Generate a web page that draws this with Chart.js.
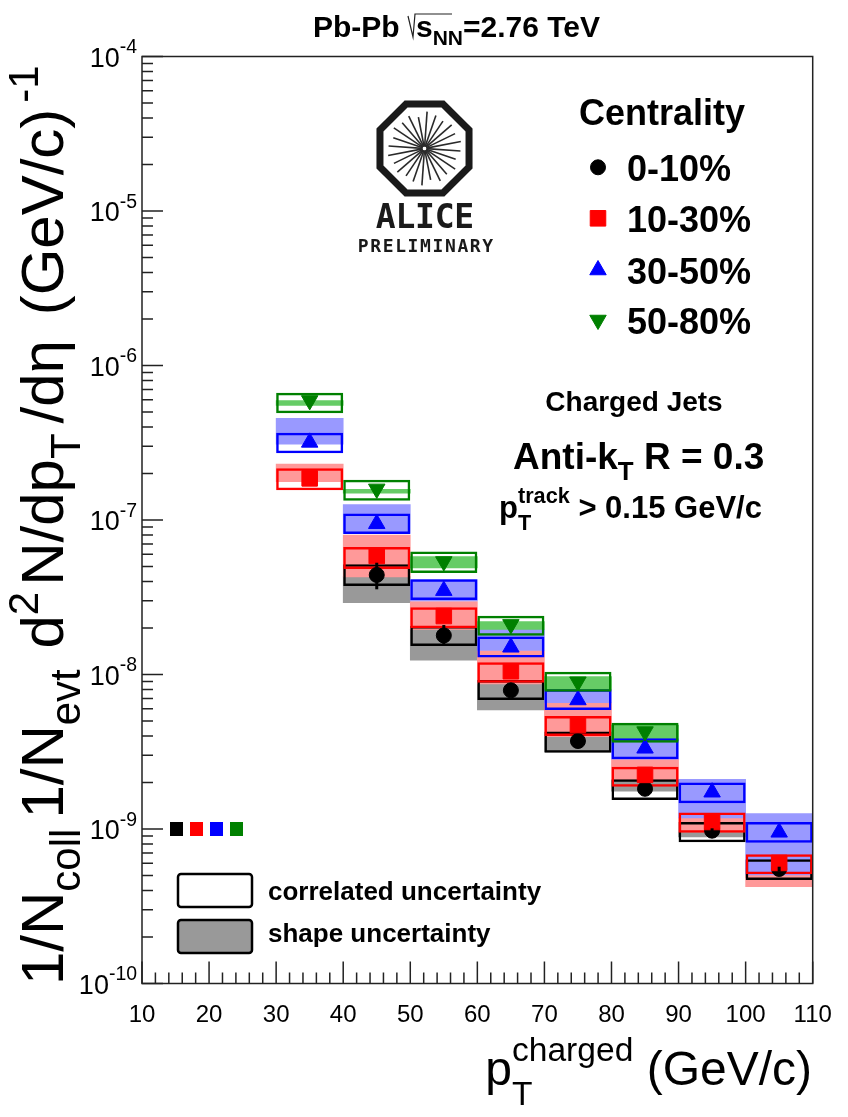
<!DOCTYPE html>
<html>
<head>
<meta charset="utf-8">
<script src="https://cdn.jsdelivr.net/npm/chart.js@4.4.1/dist/chart.umd.min.js"></script>
<style>
  html, body { margin: 0; padding: 0; background: #fff; }
  #wrap { width: 848px; height: 1117px; }
</style>
</head>
<body>
<div id="wrap"><canvas id="chart" width="848" height="1117"></canvas></div>
<script>
// pT bin centres (GeV/c), bins are 10 GeV/c wide
const binCenters = [35, 45, 55, 65, 75, 85, 95, 105];

// 0-10%
const c0Val     = [null, 4.41e-8, 1.79e-8, 7.90e-9, 3.71e-9, 1.82e-9, 9.75e-10, 5.51e-10];
const c0CorrHi  = [null, 5.17e-8, 2.06e-8, 9.21e-9, 4.27e-9, 2.10e-9, 1.11e-9, 6.37e-10];
const c0CorrLo  = [null, 3.74e-8, 1.53e-8, 6.84e-9, 3.12e-9, 1.54e-9, 8.20e-10, 4.68e-10];
const c0ShapeHi = [null, 4.30e-8, 1.96e-8, 8.68e-9, 3.96e-9, 2.07e-9, 9.56e-10, 5.59e-10];
const c0ShapeLo = [null, 2.92e-8, 1.24e-8, 5.89e-9, 3.16e-9, 1.76e-9, 8.88e-10, 4.82e-10];
const c0StatHi  = [null, 5.29e-8, 2.09e-8, 8.4e-9, 3.9e-9, 1.9e-9, 1.01e-9, 5.7e-10];
const c0StatLo  = [null, 3.56e-8, 1.55e-8, 7.4e-9, 3.5e-9, 1.74e-9, 9.4e-10, 5.3e-10];

// 10-30%
const c1Val     = [1.86e-7, 5.85e-8, 2.39e-8, 1.05e-8, 4.71e-9, 2.24e-9, 1.11e-9, 6.03e-10];
const c1CorrHi  = [2.16e-7, 6.68e-8, 2.72e-8, 1.20e-8, 5.39e-9, 2.53e-9, 1.28e-9, 6.86e-10];
const c1CorrLo  = [1.56e-7, 4.82e-8, 1.99e-8, 8.85e-9, 4.00e-9, 1.88e-9, 9.46e-10, 5.09e-10];
const c1ShapeHi = [2.30e-7, 8.0e-8, 2.96e-8, 1.43e-8, 6.57e-9, 2.83e-9, 1.18e-9, 6.30e-10];
const c1ShapeLo = [1.77e-7, 4.28e-8, 1.96e-8, 8.68e-9, 3.96e-9, 2.07e-9, 9.56e-10, 4.23e-10];

// 30-50%
const c2Val     = [3.18e-7, 9.46e-8, 3.49e-8, 1.50e-8, 6.84e-9, 3.33e-9, 1.73e-9, 9.52e-10];
const c2CorrHi  = [3.67e-7, 1.10e-7, 4.13e-8, 1.76e-8, 8.02e-9, 3.86e-9, 2.00e-9, 1.11e-9];
const c2CorrLo  = [2.70e-7, 8.12e-8, 3.03e-8, 1.29e-8, 5.89e-9, 2.83e-9, 1.47e-9, 8.15e-10];
const c2ShapeHi = [4.55e-7, 1.26e-7, 4.12e-8, 1.96e-8, 7.94e-9, 3.73e-9, 2.10e-9, 1.26e-9];
const c2ShapeLo = [3.10e-7, 8.18e-8, 2.99e-8, 1.43e-8, 6.57e-9, 2.83e-9, 1.18e-9, 5.04e-10];

// 50-80%
const c3Val     = [5.94e-7, 1.59e-7, 5.39e-8, 2.11e-8, 8.98e-9, 4.27e-9, null, null];
const c3CorrHi  = [6.67e-7, 1.82e-7, 6.25e-8, 2.40e-8, 1.04e-8, 4.88e-9, null, null];
const c3CorrLo  = [4.91e-7, 1.33e-7, 4.54e-8, 1.78e-8, 7.74e-9, 3.62e-9, null, null];
const c3ShapeHi = [5.92e-7, 1.58e-7, 5.80e-8, 2.20e-8, 9.68e-9, 4.71e-9, null, null];
const c3ShapeLo = [5.52e-7, 1.49e-7, 4.89e-8, 1.96e-8, 7.94e-9, 3.73e-9, null, null];

const centralities = ['0-10%', '10-30%', '30-50%', '50-80%'];
const xTicks = [10, 20, 30, 40, 50, 60, 70, 80, 90, 100, 110];
const yDecades = [-10, -9, -8, -7, -6, -5, -4];

const FONT = '"Liberation Sans", Arial, Helvetica, sans-serif';

const series = [
  { val: c0Val, cLo: c0CorrLo, cHi: c0CorrHi, sLo: c0ShapeLo, sHi: c0ShapeHi, line: '#000000', fill: '#999999', style: 'circle', rot: 0, r: 7.5 },
  { val: c1Val, cLo: c1CorrLo, cHi: c1CorrHi, sLo: c1ShapeLo, sHi: c1ShapeHi, line: '#ff0000', fill: '#ff9999', style: 'rect', rot: 0, r: 11 },
  { val: c2Val, cLo: c2CorrLo, cHi: c2CorrHi, sLo: c2ShapeLo, sHi: c2ShapeHi, line: '#0000ff', fill: '#9999ff', style: 'triangle', rot: 0, r: 9.5 },
  { val: c3Val, cLo: c3CorrLo, cHi: c3CorrHi, sLo: c3ShapeLo, sHi: c3ShapeHi, line: '#008000', fill: '#66cc66', style: 'triangle', rot: 180, r: 9.5 }
];

function floating(lo, hi) {
  return binCenters.map((x, i) => (lo[i] == null ? null : { x: x, y: [lo[i], hi[i]] })).filter(Boolean);
}
function points(vals) {
  return binCenters.map((x, i) => (vals[i] == null ? null : { x: x, y: vals[i] })).filter(Boolean);
}

const barCommon = { type: 'bar', grouped: false, barPercentage: 1, categoryPercentage: 1, borderSkipped: false };
const datasets = [];
series.forEach((s, k) => {
  // shape uncertainty band
  datasets.push(Object.assign({}, barCommon, {
    label: centralities[k] + ' shape', data: floating(s.sLo, s.sHi),
    backgroundColor: s.fill, borderWidth: 0, order: 30 - k
  }));
  // correlated uncertainty box
  datasets.push(Object.assign({}, barCommon, {
    label: centralities[k] + ' correlated', data: floating(s.cLo, s.cHi),
    backgroundColor: 'rgba(0,0,0,0)', borderColor: s.line, borderWidth: 2.5, inflateAmount: 0, order: 20 - k
  }));
  // points
  datasets.push({
    type: 'scatter', label: centralities[k], data: points(s.val),
    pointStyle: s.style, rotation: s.rot, pointRadius: s.r,
    backgroundColor: s.line, borderColor: s.line, borderWidth: 1, order: 10 - k
  });
});

// rich text: parts are {t} or {sub, sup}; gap adds space after a part
function richRun(ctx, x, y, size, weight, parts, draw) {
  let cx = x;
  for (const p of parts) {
    if (p.t !== undefined) {
      ctx.font = weight + ' ' + size + 'px ' + FONT;
      if (draw) ctx.fillText(p.t, cx, y);
      cx += ctx.measureText(p.t).width;
    } else {
      const s = size * (p.scale || 0.7);
      ctx.font = weight + ' ' + s + 'px ' + FONT;
      let w = 0;
      if (p.sup) {
        if (draw) ctx.fillText(p.sup, cx, y - size * (p.up || 0.42));
        w = Math.max(w, ctx.measureText(p.sup).width);
      }
      if (p.sub) {
        if (draw) ctx.fillText(p.sub, cx, y + size * (p.down || 0.28));
        w = Math.max(w, ctx.measureText(p.sub).width);
      }
      cx += w;
    }
    cx += p.gap || 0;
  }
  return cx - x;
}
function drawRich(ctx, x, y, size, weight, parts, align) {
  ctx.textAlign = 'left';
  ctx.textBaseline = 'alphabetic';
  const w = richRun(ctx, 0, 0, size, weight, parts, false);
  const sx = align === 'center' ? x - w / 2 : (align === 'right' ? x - w : x);
  richRun(ctx, sx, y, size, weight, parts, true);
  return w;
}

function drawLogo(ctx, cx, cy) {
  ctx.save();
  ctx.strokeStyle = '#1a1a1a';
  ctx.lineWidth = 7;
  ctx.lineJoin = 'miter';
  ctx.beginPath();
  const R = 48.2;
  for (let k = 0; k < 8; k++) {
    const a = Math.PI / 8 + k * Math.PI / 4;
    const px = cx + R * Math.cos(a), py = cy + R * Math.sin(a);
    if (k === 0) ctx.moveTo(px, py); else ctx.lineTo(px, py);
  }
  ctx.closePath();
  ctx.stroke();
  ctx.strokeStyle = '#2a2a2a';
  ctx.lineWidth = 1.6;
  const lens = [36, 33, 37, 34, 36, 32, 37, 35, 33, 36, 34, 37];
  for (let k = 0; k < 24; k++) {
    const a = k * Math.PI / 12 + 0.07;
    const L = lens[k % lens.length];
    ctx.beginPath();
    ctx.moveTo(cx + 2 * Math.cos(a), cy + 2 * Math.sin(a));
    ctx.lineTo(cx + L * Math.cos(a), cy + L * Math.sin(a));
    ctx.stroke();
  }
  ctx.fillStyle = '#1a1a1a';
  ctx.textAlign = 'center';
  ctx.font = 'bold 33px "DejaVu Sans Mono", monospace';
  'ALICE'.split('').forEach((c, i) => ctx.fillText(c, 376 + (i + 0.5) * 19.6, 228));
  ctx.font = 'bold 18px "DejaVu Sans Mono", monospace';
  'PRELIMINARY'.split('').forEach((c, i) => ctx.fillText(c, 357 + (i + 0.5) * 12.45, 252));
  ctx.restore();
}

const decor = {
  id: 'decor',
  afterDraw(chart) {
    const ctx = chart.ctx;
    const xs = chart.scales.x, ys = chart.scales.y;
    const a = chart.chartArea;
    ctx.save();

    // statistical errors of 0-10%
    ctx.strokeStyle = '#000';
    ctx.lineWidth = 3;
    binCenters.forEach((x, i) => {
      if (c0StatLo[i] == null) return;
      const px = xs.getPixelForValue(x);
      ctx.beginPath();
      ctx.moveTo(px, ys.getPixelForValue(c0StatLo[i]));
      ctx.lineTo(px, ys.getPixelForValue(c0StatHi[i]));
      ctx.stroke();
    });

    // frame and ticks
    ctx.strokeStyle = '#222';
    ctx.lineWidth = 1.5;
    ctx.strokeRect(a.left, a.top, a.right - a.left, a.bottom - a.top);
    ctx.beginPath();
    yDecades.forEach(e => {
      for (let m = 1; m <= 9; m++) {
        if (e === -4 && m > 1) break;
        const py = ys.getPixelForValue(m * Math.pow(10, e));
        ctx.moveTo(a.left, py);
        ctx.lineTo(a.left + (m === 1 ? 21 : 11), py);
      }
    });
    for (let t = 10; t <= 110; t += 2) {
      const px = xs.getPixelForValue(t);
      ctx.moveTo(px, a.bottom);
      ctx.lineTo(px, a.bottom - (t % 10 === 0 ? 22 : 11));
    }
    ctx.stroke();

    // tick labels
    ctx.fillStyle = '#000';
    ctx.textAlign = 'center';
    ctx.font = '24px ' + FONT;
    xTicks.forEach(t => ctx.fillText(String(t), xs.getPixelForValue(t), a.bottom + 38));
    yDecades.forEach(e => {
      const py = ys.getPixelForValue(Math.pow(10, e));
      drawRich(ctx, a.left - 5, py + 10, 27, 'normal', [{ t: '10' }, { sup: String(e), scale: 0.72, up: 0.5 }], 'right');
    });

    // axis titles
    drawRich(ctx, 812, 1085, 48, 'normal', [{ t: 'p' }, { sup: 'charged', sub: 'T', up: 0.5, down: 0.42 }, { t: ' (GeV/c)' }], 'right');
    ctx.save();
    ctx.translate(63, 985);
    ctx.rotate(-Math.PI / 2);
    drawRich(ctx, 0, 0, 60, 'normal', [
      { t: '1/N' }, { sub: 'coll', gap: 10 }, { t: '1/N' }, { sub: 'evt', gap: 4 }, { t: ' d' }, { sup: '2', gap: 6 },
      { t: 'N/dp' }, { sub: 'T', gap: 10 }, { t: '/d\u03B7 ', gap: 8 }, { t: '(GeV/c)', gap: 6 }, { sup: '-1' }
    ], 'left');
    ctx.restore();

    // title
    ctx.save();
    ctx.translate(313, 37);
    let w = drawRich(ctx, 0, 0, 30, 'bold', [{ t: 'Pb-Pb ' }], 'left');
    ctx.lineWidth = 1.2;
    ctx.beginPath();
    ctx.moveTo(w, -21); ctx.lineTo(w + 5, 0); ctx.lineTo(w + 7, -23); ctx.lineTo(w + 44, -23);
    ctx.stroke();
    w += 8;
    w += drawRich(ctx, w, 0, 30, 'bold', [{ t: 's' }, { sub: 'NN', down: 0.25 }], 'left');
    drawRich(ctx, w, 0, 30, 'bold', [{ t: '=2.76 TeV' }], 'left');
    ctx.restore();

    // centrality legend
    ctx.fillStyle = '#000';
    ctx.textAlign = 'center';
    ctx.font = 'bold 36px ' + FONT;
    ctx.fillText('Centrality', 662, 125);
    const rowY = [167.3, 218.3, 270, 320];
    series.forEach((s, k) => {
      ctx.fillStyle = s.line;
      ctx.strokeStyle = s.line;
      ctx.lineWidth = 1;
      Chart.helpers.drawPoint(ctx, { pointStyle: s.style, rotation: s.rot, radius: s.r, borderWidth: 1 }, 598, rowY[k]);
      ctx.fillStyle = '#000';
      ctx.textAlign = 'left';
      ctx.font = 'bold 36px ' + FONT;
      ctx.fillText(centralities[k], 627, rowY[k] + 14);
    });

    // jet info
    ctx.textAlign = 'center';
    ctx.font = 'bold 28px ' + FONT;
    ctx.fillText('Charged Jets', 634, 411);
    drawRich(ctx, 513, 469, 37, 'bold', [{ t: 'Anti-k' }, { sub: 'T', down: 0.3 }, { t: ' R = 0.3' }], 'left');
    drawRich(ctx, 499, 518, 31, 'bold', [{ t: 'p' }, { sup: 'track', sub: 'T', up: 0.5, down: 0.4 }, { t: ' > 0.15 GeV/c' }], 'left');

    // logo
    drawLogo(ctx, 424.5, 148.5);

    // coloured squares
    ['#000000', '#ff0000', '#0000ff', '#008000'].forEach((c, i) => {
      ctx.fillStyle = c;
      ctx.fillRect(170 + i * 20, 822, 13, 14);
    });

    // uncertainty legend
    ctx.lineWidth = 2.5;
    ctx.strokeStyle = '#000';
    ctx.fillStyle = '#fff';
    ctx.beginPath(); ctx.roundRect(178, 874, 74, 33, 3); ctx.fill(); ctx.stroke();
    ctx.fillStyle = '#999999';
    ctx.beginPath(); ctx.roundRect(178, 920, 74, 33, 3); ctx.fill(); ctx.stroke();
    ctx.fillStyle = '#000';
    ctx.textAlign = 'left';
    ctx.font = 'bold 26px ' + FONT;
    ctx.fillText('correlated uncertainty', 268, 900);
    ctx.fillText('shape uncertainty', 268, 942);

    ctx.restore();
  }
};

new Chart(document.getElementById('chart'), {
  type: 'bar',
  data: { datasets: datasets },
  options: {
    responsive: false,
    animation: false,
    layout: { padding: { left: 142, right: 848 - 812.7, top: 56.5, bottom: 1117 - 983.5 } },
    plugins: { legend: { display: false }, tooltip: { enabled: false } },
    scales: {
      x: { type: 'linear', min: 10, max: 110, offset: false, display: false, ticks: { stepSize: 10 } },
      y: { type: 'logarithmic', min: 1e-10, max: 1e-4, display: false }
    }
  },
  plugins: [decor]
});
</script>
</body>
</html>
